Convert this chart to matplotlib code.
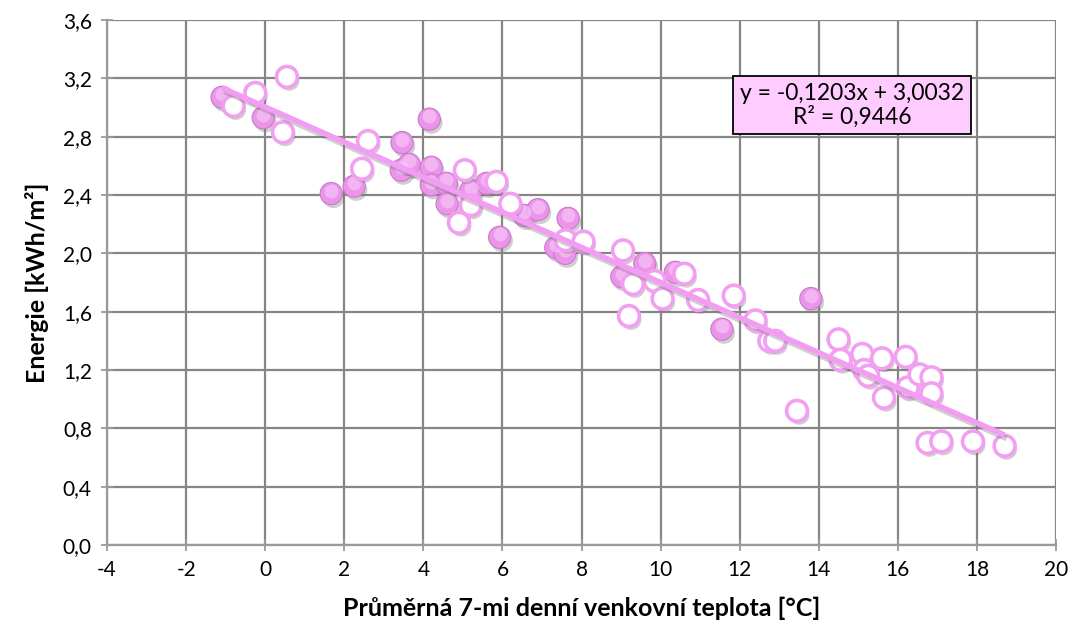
import matplotlib
matplotlib.use("Agg")
import matplotlib.pyplot as plt
import matplotlib.patheffects as pe
import matplotlib.transforms as mtransforms
from matplotlib.ticker import MultipleLocator, FuncFormatter

# filled points (x = temperature, y = energy)
plne_x = [-1.09, -0.05, 1.67, 2.25, 3.46, 3.44, 3.64, 4.15, 4.20, 4.20, 4.58, 4.60,
          5.20, 5.60, 5.93, 6.55, 6.90, 7.35, 7.58, 7.66, 9.02, 9.60, 10.37, 11.55, 13.80]
plne_y = [3.07, 2.93, 2.41, 2.46, 2.76, 2.57, 2.61, 2.92, 2.59, 2.47, 2.48, 2.34,
          2.43, 2.48, 2.11, 2.26, 2.30, 2.04, 2.00, 2.24, 1.84, 1.93, 1.87, 1.48, 1.69]

# open points
prazdne_x = [0.55, -0.25, -0.80, 0.45, 2.60, 2.45, 5.05, 4.90, 5.85, 5.20, 6.20, 7.60,
             8.05, 9.05, 9.30, 9.20, 9.85, 10.05, 10.60, 10.95, 11.85, 12.40, 12.75, 12.90,
             13.45, 14.50, 14.55, 15.10, 15.15, 15.25, 15.60, 16.20, 16.25, 15.65, 16.55,
             16.85, 16.85, 16.75, 17.10, 17.90, 18.70]
prazdne_y = [3.21, 3.10, 3.01, 2.83, 2.77, 2.58, 2.57, 2.21, 2.49, 2.33, 2.34, 2.09,
             2.08, 2.02, 1.79, 1.57, 1.81, 1.69, 1.86, 1.68, 1.71, 1.54, 1.40, 1.40,
             0.92, 1.41, 1.27, 1.31, 1.20, 1.16, 1.28, 1.29, 1.08, 1.01, 1.17,
             1.15, 1.04, 0.70, 0.71, 0.71, 0.68]

a, b, r2 = -0.1203, 3.0032, 0.9446

plt.rcParams['font.family'] = ['Lato', 'DejaVu Sans']

fig = plt.figure(figsize=(10.78, 6.33), dpi=100)
ax = fig.add_axes([0.0993, 0.139, 0.8803, 0.8294])

stin = [pe.SimplePatchShadow(offset=(1.5, -2.5), shadow_rgbFace='#777777', alpha=0.35), pe.Normal()]

ax.plot(plne_x, plne_y, 'o', ms=16, mfc='#EA94EA', mec='#C77CC7', mew=0.8,
        path_effects=stin, zorder=3)
# glossy highlight, shifted up a little
nahoru = mtransforms.offset_copy(ax.transData, fig=fig, x=0, y=3, units='dots')
ax.plot(plne_x, plne_y, 'o', ms=10, mfc='#F8CCF8', mec='none', alpha=0.6, zorder=3.1,
        transform=nahoru)
ax.plot(prazdne_x, prazdne_y, 'o', ms=15, mfc='white', mec='#F29FF2', mew=2.6,
        path_effects=stin, zorder=3.2)

xs = [min(plne_x + prazdne_x), max(plne_x + prazdne_x)]
ys = [a * v + b for v in xs]
ax.plot(xs, ys, '-', color='#F39CF3', lw=4, solid_capstyle='butt',
        path_effects=[pe.SimpleLineShadow(offset=(1.5, -2.5), shadow_color='#777777', alpha=0.35), pe.Normal()],
        zorder=4)

ax.set_xlim(-4, 20)
ax.set_ylim(0, 3.6)
ax.xaxis.set_major_locator(MultipleLocator(2))
ax.yaxis.set_major_locator(MultipleLocator(0.4))
ax.yaxis.set_major_formatter(FuncFormatter(lambda v, p: f"{v:.1f}".replace('.', ',')))
ax.xaxis.set_major_formatter(FuncFormatter(lambda v, p: f"{v:.0f}"))

ax.grid(True, color='#868686', lw=1.6)
ax.set_axisbelow(True)
for s in ['top', 'right']:
    ax.spines[s].set_visible(False)
for s in ['left', 'bottom']:
    ax.spines[s].set_color('#9A9A9A')
    ax.spines[s].set_linewidth(1.6)
ax.tick_params(axis='both', direction='inout', length=8, color='#9A9A9A', width=1.3,
               labelsize=15, pad=7)

ax.set_xlabel('Průměrná 7-mi denní venkovní teplota [°C]', fontsize=18, fontweight='bold', labelpad=12)
ax.set_ylabel('Energie [kWh/m²]', fontsize=18, fontweight='bold', labelpad=10)

ax.text(0.785, 0.838, f"y = {a:.4f}x + {b:.4f}\nR² = {r2:.4f}".replace('.', ','),
        transform=ax.transAxes, ha='center', va='center', fontsize=16.5, linespacing=1.1,
        bbox=dict(boxstyle='square,pad=0.3', fc='#FFCCFF', ec='black', lw=1.3), zorder=6)

fig.savefig('out.png', dpi=100)
